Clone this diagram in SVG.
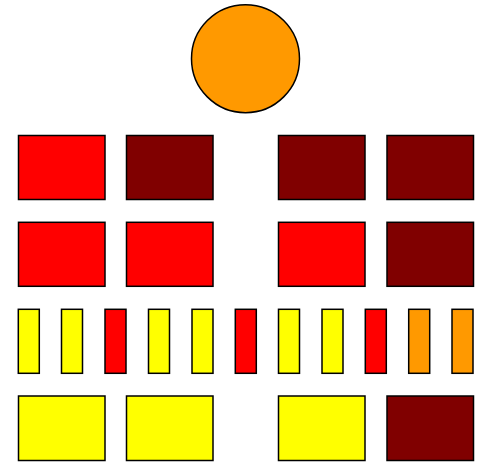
<svg xmlns="http://www.w3.org/2000/svg" width="483" height="462" viewBox="0 0 483 462">
<style>
.s{stroke:#000;stroke-width:1.5}
.r{fill:#ff0000}.m{fill:#800000}.y{fill:#ffff00}.o{fill:#ff9900}
</style>
<rect width="483" height="462" fill="#fff"/>
<g id="root"><circle class="s o" cx="245.5" cy="58.7" r="54"/></g>
<g id="row1">
<rect id="a1" class="s r" x="18.5" y="135.5" width="86.5" height="64"/>
<rect id="a2" class="s m" x="126.5" y="135.5" width="86.5" height="64"/>
<rect id="a3" class="s m" x="278.5" y="135.5" width="86.5" height="64"/>
<rect id="a4" class="s m" x="387" y="135.5" width="86.5" height="64"/>
</g>
<g id="row2">
<rect id="b1" class="s r" x="18.5" y="222.3" width="86.5" height="64"/>
<rect id="b2" class="s r" x="126.5" y="222.3" width="86.5" height="64"/>
<rect id="b3" class="s r" x="278.5" y="222.3" width="86.5" height="64"/>
<rect id="b4" class="s m" x="387" y="222.3" width="86.5" height="64"/>
</g>
<g id="row3">
<rect id="c1" class="s y" x="18.3" y="309.3" width="21" height="64"/>
<rect id="c2" class="s y" x="61.5" y="309.3" width="21" height="64"/>
<rect id="c3" class="s r" x="105" y="309.3" width="21" height="64"/>
<rect id="c4" class="s y" x="148.5" y="309.3" width="21" height="64"/>
<rect id="c5" class="s y" x="192" y="309.3" width="21" height="64"/>
<rect id="c6" class="s r" x="235.3" y="309.3" width="21" height="64"/>
<rect id="c7" class="s y" x="278.5" y="309.3" width="21" height="64"/>
<rect id="c8" class="s y" x="322" y="309.3" width="21" height="64"/>
<rect id="c9" class="s r" x="365.3" y="309.3" width="21" height="64"/>
<rect id="c10" class="s o" x="408.7" y="309.3" width="21" height="64"/>
<rect id="c11" class="s o" x="452" y="309.3" width="21" height="64"/>
</g>
<g id="row4">
<rect id="d1" class="s y" x="18.5" y="396" width="86.5" height="64.5"/>
<rect id="d2" class="s y" x="126.5" y="396" width="86.5" height="64.5"/>
<rect id="d3" class="s y" x="278.5" y="396" width="86.5" height="64.5"/>
<rect id="d4" class="s m" x="387" y="396" width="86.5" height="64.5"/>
</g>
<g id="connectors"/>
</svg>
